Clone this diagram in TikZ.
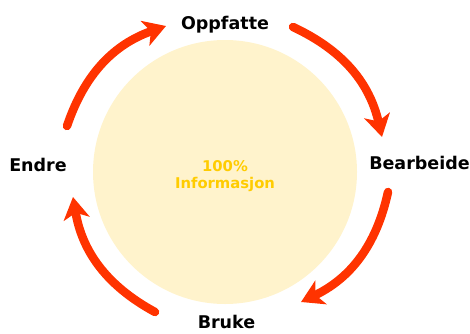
\documentclass[tikz,border=0pt]{standalone}
\usepackage{fontspec}
\setmainfont{DejaVu Sans}
\usetikzlibrary{arrows.meta}
\definecolor{arrowred}{HTML}{FF3300}
\definecolor{discfill}{HTML}{FFF3CC}
\definecolor{gold}{HTML}{FFCC00}
\begin{document}
\begin{tikzpicture}[x=1pt,y=1pt,
  label/.style={font=\bfseries\fontsize{17.5}{20}\selectfont, text=black, inner sep=0pt, anchor=base},
  cyclearrow/.style={draw=arrowred, line width=8.5pt, line cap=round,
    -{Stealth[length=22pt,width=26pt,inset=6pt]}, bend left=26}]
\useasboundingbox (0,0) rectangle (470,333);
\fill[discfill] (225,161) circle[radius=132];
\node[inner sep=0pt, align=center, text=gold, font=\bfseries\fontsize{14.8}{17}\selectfont] (info) at (225,157) {100\%\\Informasjon};
\node[label] (oppfatte) at (225,304) {Oppfatte};
\node[label] (bearbeide) at (419.5,164) {Bearbeide};
\node[label] (endre) at (38,162) {Endre};
\node[label] (bruke) at (226.5,5) {Bruke};
\coordinate (tls) at (67,207);
\coordinate (tlt) at (166,307);
\coordinate (trs) at (293,306);
\coordinate (trt) at (382,196);
\coordinate (brs) at (388,141);
\coordinate (brt) at (301,31);
\coordinate (bls) at (155,21);
\coordinate (blt) at (73,136);
\draw[cyclearrow] (tls) to (tlt);
\draw[cyclearrow] (trs) to (trt);
\draw[cyclearrow] (brs) to (brt);
\draw[cyclearrow] (bls) to (blt);
\end{tikzpicture}
\end{document}
